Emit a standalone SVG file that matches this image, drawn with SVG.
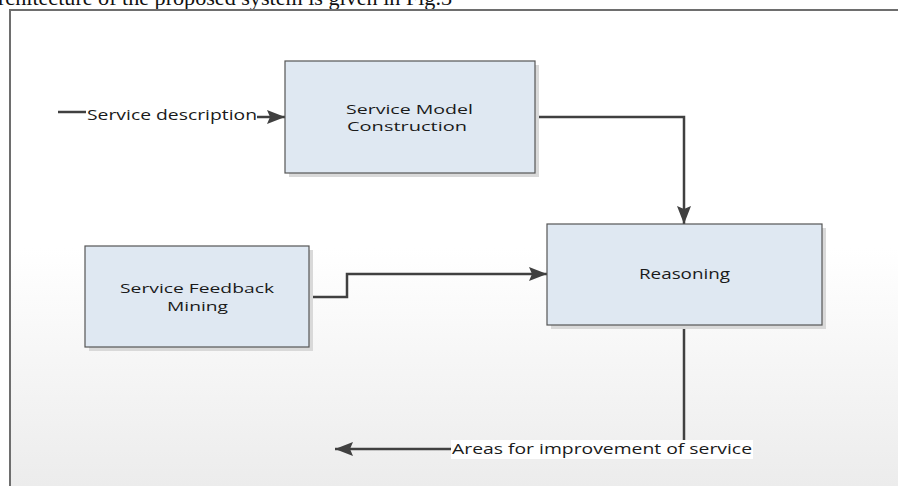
<svg xmlns="http://www.w3.org/2000/svg" width="898" height="486" viewBox="0 0 898 486">
  <defs>
    <linearGradient id="bg" x1="0" y1="0" x2="0" y2="1">
      <stop offset="0" stop-color="#ffffff"/>
      <stop offset="0.5" stop-color="#ffffff"/>
      <stop offset="1" stop-color="#ececec"/>
    </linearGradient>
    <marker id="arr" viewBox="0 0 18 14" refX="18" refY="7" markerWidth="18" markerHeight="14" markerUnits="userSpaceOnUse" orient="auto">
      <path d="M0,0 L18,7 L0,14 L3,7 z" fill="#404040"/>
    </marker>
    <style>
      .box { fill: #dfe8f2; stroke: #555555; stroke-width: 1.2; }
      .shadow { fill: #d9d9d9; }
      .lbl { font-family: "Open Sans", "DejaVu Sans", sans-serif; font-size: 14px; fill: #1a1a1a; }
      .two { font-size: 12.5px; }
      .conn { fill: none; stroke: #404040; stroke-width: 2.5; }
    </style>
  </defs>

  <rect x="0" y="0" width="898" height="486" fill="#ffffff"/>
  <rect x="10" y="10" width="888" height="476" fill="url(#bg)"/>
  <text x="-2" y="5" font-family="Liberation Serif, serif" font-size="22" fill="#111" textLength="454" lengthAdjust="spacingAndGlyphs">rchitecture of the proposed system is given in Fig.3</text>
  <path d="M10,486 L10,10 L898,10" fill="none" stroke="#6e6e6e" stroke-width="2"/>

  <g id="connectors">
    <line class="conn" x1="58" y1="112" x2="86" y2="112" stroke-width="1.8"/>
    <line class="conn" x1="257" y1="117" x2="285" y2="117" marker-end="url(#arr)" stroke-width="1.8"/>
    <polyline class="conn" points="535,117 684,117 684,224" marker-end="url(#arr)"/>
    <polyline class="conn" points="309,297 347,297 347,274 547,274" marker-end="url(#arr)"/>
    <line class="conn" x1="684" y1="325" x2="684" y2="441"/>
    <line class="conn" x1="452" y1="449" x2="335" y2="449" marker-end="url(#arr)" stroke-width="2"/>
    <rect x="451" y="440" width="302" height="19" fill="#ffffff"/>
    <text class="lbl" x="452" y="454" textLength="300" lengthAdjust="spacingAndGlyphs">Areas for improvement of service</text>
    <text class="lbl" x="87" y="120" textLength="170" lengthAdjust="spacingAndGlyphs">Service description</text>
  </g>

  <g id="service-model-construction">
    <rect class="shadow" x="289" y="65" width="250" height="112"/>
    <rect class="box" x="285" y="61" width="250" height="112"/>
    <text class="lbl two" x="346" y="114" textLength="127" lengthAdjust="spacingAndGlyphs">Service Model</text>
    <text class="lbl two" x="347" y="131" textLength="120" lengthAdjust="spacingAndGlyphs">Construction</text>
  </g>

  <g id="reasoning">
    <rect class="shadow" x="551" y="228" width="275" height="101"/>
    <rect class="box" x="547" y="224" width="275" height="101"/>
    <text class="lbl" x="639" y="279" textLength="91" lengthAdjust="spacingAndGlyphs">Reasoning</text>
  </g>

  <g id="service-feedback-mining">
    <rect class="shadow" x="89" y="250" width="224" height="101"/>
    <rect class="box" x="85" y="246" width="224" height="101"/>
    <text class="lbl two" x="120" y="293" textLength="154" lengthAdjust="spacingAndGlyphs">Service Feedback</text>
    <text class="lbl two" x="167" y="311" textLength="61" lengthAdjust="spacingAndGlyphs">Mining</text>
  </g>
</svg>
